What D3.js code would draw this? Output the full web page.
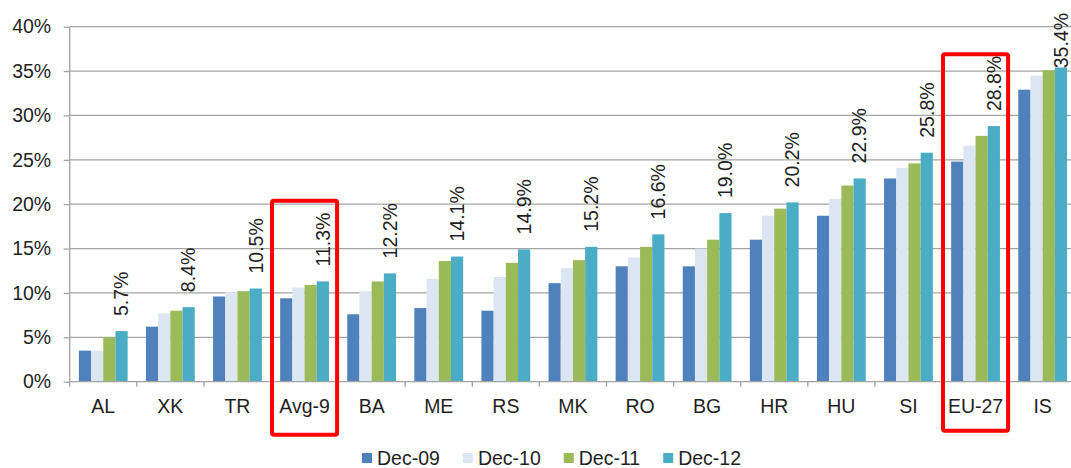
<!DOCTYPE html>
<html>
<head>
<meta charset="utf-8">
<script src="https://cdn.jsdelivr.net/npm/d3@7"></script>
<style>
  html, body { margin: 0; padding: 0; background: #fff; }
  svg { display: block; font-family: "Liberation Sans", Arial, sans-serif; }
</style>
</head>
<body>
<svg id="chart" width="1071" height="468"></svg>
<script>
// Categories along the x axis
const categories = ["AL", "XK", "TR", "Avg-9", "BA", "ME", "RS", "MK", "RO", "BG", "HR", "HU", "SI", "EU-27", "IS"];

// Series (share, in percent)
const seriesNames = ["Dec-09", "Dec-10", "Dec-11", "Dec-12"];
const dec09 = [3.5, 6.2, 9.6, 9.4, 7.6, 8.3, 8.0, 11.1, 13.0, 13.0, 16.0, 18.7, 22.9, 24.8, 32.9];
const dec10 = [3.5, 7.7, 10.1, 10.6, 10.2, 11.6, 11.8, 12.8, 14.0, 15.0, 18.7, 20.6, 24.1, 26.6, 34.5];
const dec11 = [5.0, 8.0, 10.2, 10.9, 11.3, 13.6, 13.4, 13.7, 15.2, 16.0, 19.5, 22.1, 24.6, 27.7, 35.1];
const dec12 = [5.7, 8.4, 10.5, 11.3, 12.2, 14.1, 14.9, 15.2, 16.6, 19.0, 20.2, 22.9, 25.8, 28.8, 35.4];
const seriesValues = [dec09, dec10, dec11, dec12];

// Y axis tick values (percent)
const yTicks = [0, 5, 10, 15, 20, 25, 30, 35, 40];

// Highlighted categories and the level the outline reaches (percent)
const highlighted = ["Avg-9", "EU-27"];
const highlightTop = [20.4, 36.9];

const colors = ["#4F81BD", "#DCE6F2", "#9BBB59", "#4BACC6"];
const textColor = "#1f1f1f";
const gridColor = "#A3A3A3";
const fontSize = 19.5;

const svg = d3.select("#chart");

const plotLeft = 69.7, plotRight = 1076.2, plotTop = 26.7, plotBottom = 381.7;

// Clustered columns: gap between groups = 1.5 bar widths
const x = d3.scaleBand()
  .domain(categories)
  .range([plotLeft, plotRight])
  .paddingInner(1.5 / 5.5)
  .paddingOuter(0.75 / 5.5);

const xs = d3.scaleBand()
  .domain(seriesNames)
  .range([0, x.bandwidth()]);

const y = d3.scaleLinear().domain([0, 40]).range([plotBottom, plotTop]);

const halfGap = x.step() * x.paddingOuter();

// Horizontal grid lines
svg.append("g")
  .selectAll("line")
  .data(yTicks.slice(1))
  .join("line")
  .attr("x1", plotLeft).attr("x2", plotRight)
  .attr("y1", d => y(d)).attr("y2", d => y(d))
  .attr("stroke", gridColor)
  .attr("stroke-width", 1.3);

// Y axis
const yAxis = svg.append("g")
  .attr("transform", `translate(${plotLeft},0)`)
  .call(d3.axisLeft(y).tickValues(yTicks).tickFormat(d => d + "%").tickSize(6).tickPadding(12.5));
yAxis.select(".domain").attr("stroke", gridColor).attr("stroke-width", 1.3)
  .attr("d", `M0,${plotTop}V${plotBottom + 5}`);
yAxis.selectAll(".tick line").attr("stroke", gridColor).attr("stroke-width", 1.3);
yAxis.selectAll(".tick text").attr("fill", textColor).style("font-size", fontSize + "px")
  .style("font-family", "'Liberation Sans', Arial, sans-serif");

// Bars
const groups = svg.append("g")
  .selectAll("g")
  .data(categories)
  .join("g")
  .attr("transform", d => `translate(${x(d)},0)`);

groups.selectAll("rect")
  .data((c, i) => seriesNames.map((s, k) => ({ series: s, k, value: seriesValues[k][i] })))
  .join("rect")
  .attr("x", d => xs(d.series))
  .attr("width", xs.bandwidth())
  .attr("y", d => y(d.value))
  .attr("height", d => y(0) - y(d.value))
  .attr("fill", d => colors[d.k]);

// X axis with tick marks at category boundaries
const xAxis = svg.append("g")
  .attr("transform", `translate(0,${plotBottom})`)
  .call(d3.axisBottom(x).tickSize(0).tickPadding(17.8));
xAxis.select(".domain").attr("stroke", gridColor).attr("stroke-width", 1.3)
  .attr("d", `M${plotLeft},0H${plotRight}`);
xAxis.selectAll(".tick text").attr("fill", textColor).style("font-size", fontSize + "px")
  .style("font-family", "'Liberation Sans', Arial, sans-serif");

xAxis.append("g")
  .selectAll("line")
  .data(categories.slice(1))
  .join("line")
  .attr("x1", d => x(d) - halfGap).attr("x2", d => x(d) - halfGap)
  .attr("y1", 0).attr("y2", 5)
  .attr("stroke", gridColor)
  .attr("stroke-width", 1.3);

// Value labels above the Dec-12 column, rotated
const labelLayer = svg.append("g");
categories.forEach((c, i) => {
  const v = dec12[i];
  const cx = x(c) + xs("Dec-12") + xs.bandwidth() / 2;
  const t = labelLayer.append("text")
    .attr("text-anchor", "start")
    .attr("dy", "0.35em")
    .attr("fill", textColor)
    .style("font-size", fontSize + "px")
    .text(v.toFixed(1) + "%");
  const len = t.node().getComputedTextLength();
  const start = Math.max(y(v) - 15, 13 + len);
  t.attr("transform", `translate(${cx},${start}) rotate(-90)`);
});

// Red outlines around highlighted categories
svg.append("g")
  .selectAll("rect")
  .data(highlighted)
  .join("rect")
  .attr("x", d => x(d) - halfGap + 1)
  .attr("width", x.step() - 2)
  .attr("y", (d, i) => y(highlightTop[i]))
  .attr("height", (d, i) => (i === 0 ? plotBottom + 53 : plotBottom + 49) - y(highlightTop[i]))
  .attr("rx", 2)
  .attr("fill", "none")
  .attr("stroke", "#FF0000")
  .attr("stroke-width", 4);

// Legend
const legend = svg.append("g").attr("transform", "translate(362,0)");
let lx = 0;
seriesNames.forEach((s, k) => {
  legend.append("rect")
    .attr("x", lx).attr("y", 453)
    .attr("width", 10).attr("height", 10)
    .attr("fill", colors[k]);
  const t = legend.append("text")
    .attr("x", lx + 15).attr("y", 464.5)
    .attr("fill", textColor)
    .style("font-size", fontSize + "px")
    .text(s);
  lx += 15 + t.node().getComputedTextLength() + 23;
});
</script>
</body>
</html>
